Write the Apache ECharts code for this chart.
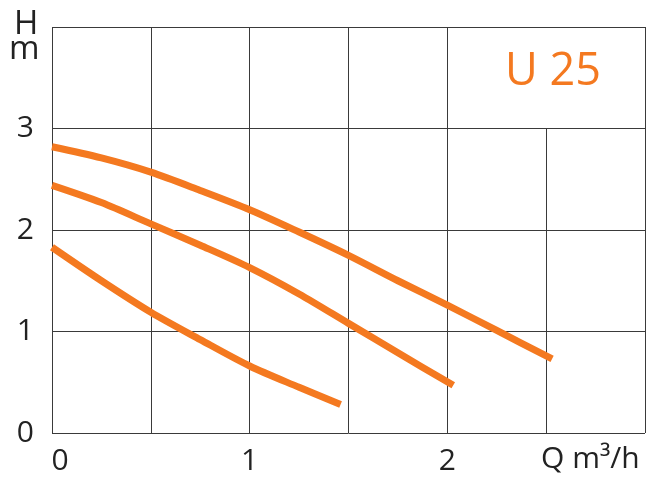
<!DOCTYPE html>
<html><head><meta charset="utf-8">
<script src="https://cdn.jsdelivr.net/npm/echarts@6/dist/echarts.min.js"></script>
<style>html,body{margin:0;padding:0;background:#fff}#c{width:652px;height:484px}</style>
</head><body><div id="c"></div>
<script>
// Data
const curveTop = [[0,2.82],[0.25,2.71],[0.5,2.57],[0.75,2.39],[1,2.20],[1.25,1.98],[1.5,1.75],[1.75,1.50],[2,1.26],[2.25,1.01],[2.53,0.73]];
const curveMid = [[0,2.44],[0.25,2.27],[0.5,2.06],[0.75,1.85],[1,1.63],[1.25,1.37],[1.5,1.08],[1.75,0.79],[2.03,0.47]];
const curveLow = [[0,1.83],[0.25,1.50],[0.5,1.19],[0.75,0.92],[1,0.66],[1.25,0.45],[1.46,0.28]];
const xTickLabels = ['0','1','2'];
const yTickLabels = ['0','1','2','3'];
const xUnit = 'Q m\u00B3/h';
const yName = ['H','m'];
const title = 'U 25';
const vLines = [0,0.5,1,1.5,2,2.5,3];
const vLineTop = [4,4,4,4,4,3,4];

const chart = echarts.init(document.getElementById('c'));
const gridColor = '#3a3a3a';
const orange = '#F47920';
const font = '"Open Sans", "Noto Sans", sans-serif';

const markData = vLines.map((x,i)=>[{coord:[x,0]},{coord:[x,vLineTop[i]]}]);

function mkSeries(d, withMark){
  const s = {type:'line', data:d, smooth:0.3, symbol:'none',
    lineStyle:{color:orange, width:7, cap:'butt', join:'round'}, z:5, silent:true};
  if(withMark){
    s.markLine = {silent:true, symbol:'none', label:{show:false},
      lineStyle:{color:gridColor, width:1, type:'solid'}, data:markData, z:1};
  }
  return s;
}

chart.setOption({
  animation:false,
  grid:{left:52, right:7, top:27, bottom:51},
  xAxis:{type:'value', min:0, max:3, interval:0.5,
    axisLine:{show:false}, axisTick:{show:false}, splitLine:{show:false},
    axisLabel:{color:'#222', fontSize:30, fontFamily:font, margin:13,
      formatter:v=>{ if(Math.abs(v)<1e-9) return '{z|'+xTickLabels[0]+'}';
        const i = xTickLabels.indexOf(String(v)); return i>=0? xTickLabels[i] : ''; },
      rich:{z:{fontSize:30, fontFamily:font, color:'#222', padding:[0,0,0,16]}}}
  },
  yAxis:{type:'value', min:0, max:4, interval:1,
    axisLine:{show:false}, axisTick:{show:false},
    splitLine:{show:true, lineStyle:{color:gridColor, width:1}},
    axisLabel:{color:'#222', fontSize:30, fontFamily:font, margin:18,
      formatter:v=>{ const i = yTickLabels.indexOf(String(v)); return i>=0? yTickLabels[i] : ''; }}
  },
  graphic:[
    {type:'text', left:14, top:8, style:{text:yName[0], fontSize:33, fontFamily:font, fill:'#222'}},
    {type:'text', left:9, top:33, style:{text:yName[1], fontSize:33, fontFamily:font, fill:'#222'}},
    {type:'text', left:541, top:444, style:{text:xUnit, fontSize:30, fontFamily:font, fill:'#222'}},
    {type:'text', left:505, top:50, style:{text:title, fontSize:45, fontFamily:font, fill:orange}}
  ],
  series:[mkSeries(curveTop,true), mkSeries(curveMid,false), mkSeries(curveLow,false)]
});
</script></body></html>
